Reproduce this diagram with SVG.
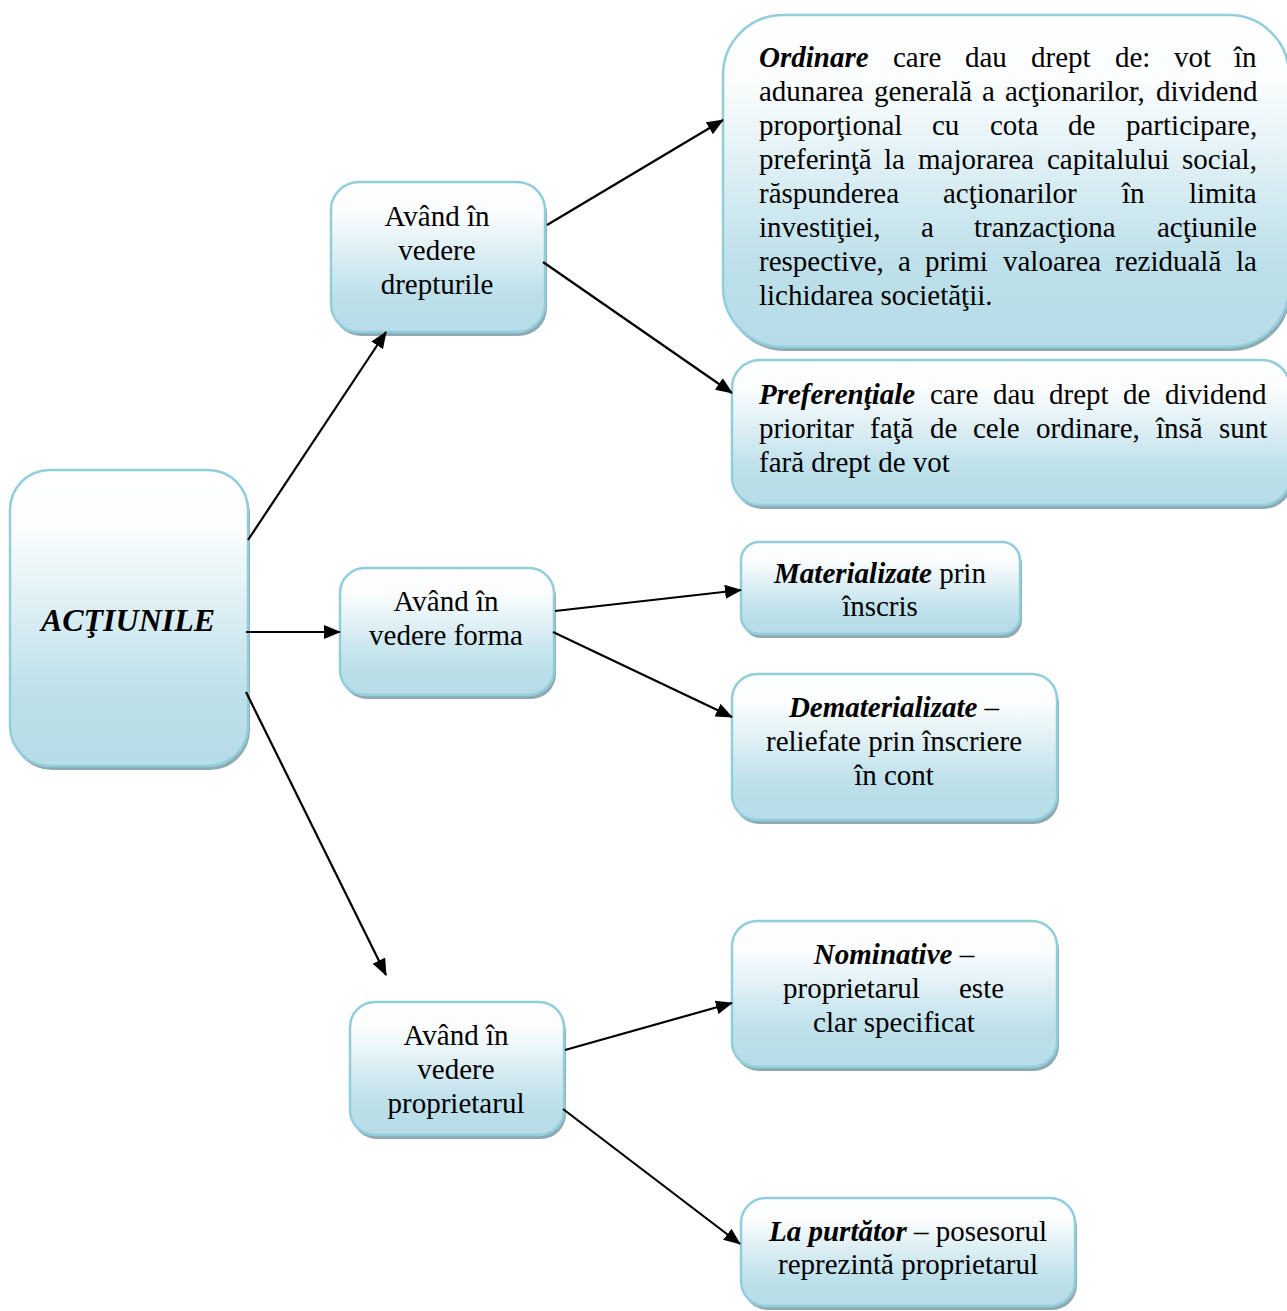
<svg xmlns="http://www.w3.org/2000/svg" width="1287" height="1311" viewBox="0 0 1287 1311">
<defs>
<linearGradient id="g" x1="0" y1="0" x2="0" y2="1">
<stop offset="0" stop-color="#ffffff"/>
<stop offset="0.2" stop-color="#fbfdfe"/>
<stop offset="0.75" stop-color="#bde0ea"/>
<stop offset="1" stop-color="#b6dce7"/>
</linearGradient>
<marker id="ah" markerUnits="userSpaceOnUse" markerWidth="18" markerHeight="14" refX="16" refY="7" orient="auto">
<path d="M0,0 L17,7 L0,14 z" fill="#000"/>
</marker>
<style>
.sh{fill:#8ea9b1}
.bx{fill:url(#g);stroke:#92cddc;stroke-width:2.5}
text{font-family:"Liberation Serif","Times New Roman",serif;font-size:29px;fill:#000}
.c{text-anchor:middle}
.bi{font-weight:bold;font-style:italic}
.cn line{stroke:#000;stroke-width:2.2;marker-end:url(#ah)}
</style>
</defs>
<rect width="1287" height="1311" fill="#fff"/>

<g id="n-actiunile">
<rect class="sh" x="12" y="474" width="238" height="296" rx="40"/>
<rect class="bx" x="10" y="470" width="238" height="296" rx="40"/>
<text class="c bi" x="128" y="631" style="font-size:32px">ACŢIUNILE</text>
</g>

<g id="n-drepturile">
<rect class="sh" x="333" y="186" width="214" height="150" rx="28"/>
<rect class="bx" x="331" y="182" width="214" height="150" rx="28"/>
<text class="c" x="437" y="226">Având în</text>
<text class="c" x="437" y="260">vedere</text>
<text class="c" x="437" y="294">drepturile</text>
</g>

<g id="n-forma">
<rect class="sh" x="342" y="572" width="214" height="127" rx="25"/>
<rect class="bx" x="340" y="568" width="214" height="127" rx="25"/>
<text class="c" x="446" y="611">Având în</text>
<text class="c" x="446" y="645">vedere forma</text>
</g>

<g id="n-proprietarul">
<rect class="sh" x="352" y="1006" width="214" height="133" rx="25"/>
<rect class="bx" x="350" y="1002" width="214" height="133" rx="25"/>
<text class="c" x="456" y="1045">Având în</text>
<text class="c" x="456" y="1079">vedere</text>
<text class="c" x="456" y="1113">proprietarul</text>
</g>

<g id="n-ordinare">
<rect class="sh" x="725" y="19" width="566" height="332" rx="60"/>
<rect class="bx" x="723" y="15" width="566" height="332" rx="60"/>
<text y="67"><tspan class="bi" x="759">Ordinare</tspan><tspan x="893">care</tspan><tspan x="965">dau</tspan><tspan x="1031">drept</tspan><tspan x="1115">de:</tspan><tspan x="1174">vot</tspan><tspan x="1234">în</tspan></text>
<text y="101"><tspan x="759">adunarea</tspan><tspan x="874">generală</tspan><tspan x="982">a</tspan><tspan x="1005">acţionarilor,</tspan><tspan x="1156">dividend</tspan></text>
<text y="135"><tspan x="759">proporţional</tspan><tspan x="932">cu</tspan><tspan x="990">cota</tspan><tspan x="1068">de</tspan><tspan x="1126">participare,</tspan></text>
<text y="169"><tspan x="759">preferinţă</tspan><tspan x="884">la</tspan><tspan x="918">majorarea</tspan><tspan x="1047">capitalului</tspan><tspan x="1182">social,</tspan></text>
<text y="203"><tspan x="759">răspunderea</tspan><tspan x="943">acţionarilor</tspan><tspan x="1122">în</tspan><tspan x="1189">limita</tspan></text>
<text y="237"><tspan x="759">investiţiei,</tspan><tspan x="921">a</tspan><tspan x="974">tranzacţiona</tspan><tspan x="1157">acţiunile</tspan></text>
<text y="271"><tspan x="759">respective,</tspan><tspan x="898">a</tspan><tspan x="925">primi</tspan><tspan x="1003">valoarea</tspan><tspan x="1115">reziduală</tspan><tspan x="1236">la</tspan></text>
<text x="759" y="305">lichidarea societăţii.</text>
</g>

<g id="n-preferentiale">
<rect class="sh" x="734" y="364" width="558" height="145" rx="28"/>
<rect class="bx" x="732" y="360" width="558" height="145" rx="28"/>
<text y="404"><tspan class="bi" x="759">Preferenţiale</tspan><tspan x="930">care</tspan><tspan x="993">dau</tspan><tspan x="1049">drept</tspan><tspan x="1123">de</tspan><tspan x="1165">dividend</tspan></text>
<text y="438"><tspan x="759">prioritar</tspan><tspan x="870">faţă</tspan><tspan x="930">de</tspan><tspan x="973">cele</tspan><tspan x="1036">ordinare,</tspan><tspan x="1156">însă</tspan><tspan x="1219">sunt</tspan></text>
<text x="759" y="472">fară drept de vot</text>
</g>

<g id="n-materializate">
<rect class="sh" x="743" y="546" width="279" height="92" rx="18"/>
<rect class="bx" x="741" y="542" width="279" height="92" rx="18"/>
<text class="c" x="880" y="583"><tspan class="bi">Materializate</tspan> prin</text>
<text class="c" x="880" y="616">înscris</text>
</g>

<g id="n-dematerializate">
<rect class="sh" x="734" y="678" width="325" height="146" rx="25"/>
<rect class="bx" x="732" y="674" width="325" height="146" rx="25"/>
<text class="c" x="894" y="717"><tspan class="bi">Dematerializate</tspan> –</text>
<text class="c" x="894" y="751">reliefate prin înscriere</text>
<text class="c" x="894" y="785">în cont</text>
</g>

<g id="n-nominative">
<rect class="sh" x="734" y="925" width="325" height="146" rx="25"/>
<rect class="bx" x="732" y="921" width="325" height="146" rx="25"/>
<text class="c" x="894" y="964"><tspan class="bi">Nominative</tspan> –</text>
<text y="998"><tspan x="783">proprietarul</tspan><tspan x="959">este</tspan></text>
<text class="c" x="894" y="1032">clar specificat</text>
</g>

<g id="n-purtator">
<rect class="sh" x="743" y="1202" width="334" height="108" rx="25"/>
<rect class="bx" x="741" y="1198" width="334" height="108" rx="25"/>
<text class="c" x="908" y="1241"><tspan class="bi">La purtător</tspan> – posesorul</text>
<text class="c" x="908" y="1274">reprezintă proprietarul</text>
</g>

<g id="connectors" class="cn">
<line x1="248" y1="540" x2="386" y2="332"/>
<line x1="246" y1="632" x2="340" y2="632"/>
<line x1="246" y1="692" x2="386" y2="975"/>
<line x1="547" y1="225" x2="723" y2="120"/>
<line x1="543" y1="262" x2="732" y2="393"/>
<line x1="555" y1="611" x2="741" y2="590"/>
<line x1="553" y1="632" x2="732" y2="717"/>
<line x1="565" y1="1050" x2="732" y2="1003"/>
<line x1="563" y1="1109" x2="740" y2="1244"/>
</g>
</svg>
